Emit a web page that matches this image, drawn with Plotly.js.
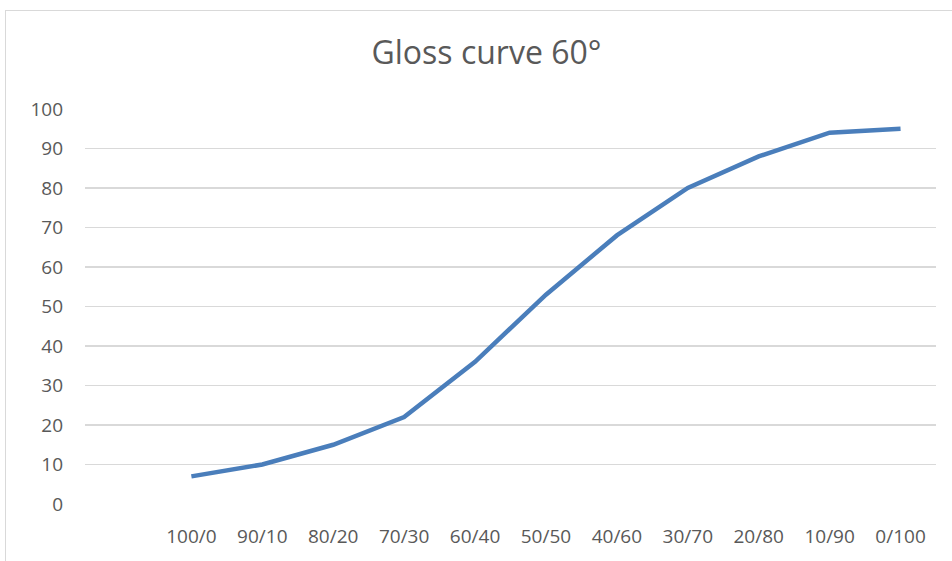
<!DOCTYPE html>
<html>
<head>
<meta charset="utf-8">
<script src="https://cdn.plot.ly/plotly-3.0.1.min.js"></script>
<style>
html,body{margin:0;padding:0;background:#fff;overflow:hidden;}
#frame{position:absolute;left:5px;top:10px;width:960px;height:560px;border:1px solid #d9d9d9;box-sizing:border-box;}
#chart{position:absolute;left:0;top:0;width:952px;height:561px;}
</style>
</head>
<body>
<div id="frame"></div>
<div id="chart"></div>
<script>
const categories = [" ", "100/0", "90/10", "80/20", "70/30", "60/40", "50/50", "40/60", "30/70", "20/80", "10/90", "0/100"];
const gloss = [null, 7, 10, 15, 22, 36, 53, 68, 80, 88, 94, 95];
const yTicks = [0, 10, 20, 30, 40, 50, 60, 70, 80, 90, 100];

const font = {family: "Open Sans, Noto Sans, sans-serif", color: "#595959"};

Plotly.newPlot("chart", [{
  type: "scatter",
  mode: "lines",
  x: categories,
  y: gloss,
  line: {color: "#4a7ebb", width: 4.5},
  connectgaps: false,
  hoverinfo: "skip"
}], {
  width: 952,
  height: 561,
  paper_bgcolor: "rgba(0,0,0,0)",
  plot_bgcolor: "rgba(0,0,0,0)",
  margin: {l: 85, r: 16, t: 109, b: 57},
  showlegend: false,
  title: {text: "Gloss curve 60°", x: 0.511, xanchor: "center", y: 0.906, yanchor: "middle",
          font: Object.assign({size: 32}, font)},
  xaxis: {
    type: "category",
    categoryorder: "array",
    categoryarray: categories,
    range: [-0.5, 11.5],
    showgrid: false,
    zeroline: false,
    showline: false,
    ticks: "",
    ticklabelstandoff: 19,
    tickfont: Object.assign({size: 19}, font)
  },
  yaxis: {
    range: [0, 100],
    tickvals: yTicks,
    showgrid: true,
    gridcolor: "#d9d9d9",
    gridwidth: 1.5,
    zeroline: false,
    showline: false,
    ticks: "",
    ticklabelstandoff: 21,
    tickfont: Object.assign({size: 19}, font)
  }
}, {staticPlot: true});
</script>
</body>
</html>
